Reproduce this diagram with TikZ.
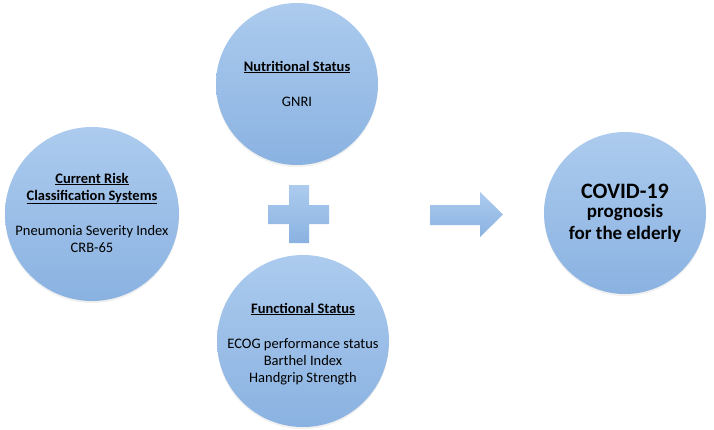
\documentclass[tikz,border=0pt]{standalone}
\usepackage{fontspec}
\setmainfont{Carlito}
\usetikzlibrary{shadows}
\definecolor{ctop}{RGB}{172,203,238}
\definecolor{cbot}{RGB}{138,178,225}
\tikzset{
  bubble/.style={circle, inner sep=0pt, top color=ctop, bottom color=cbot, draw=none,
    drop shadow={opacity=0.12, shadow xshift=0pt, shadow yshift=-2pt}},
  txt/.style={anchor=base, inner sep=0pt, font=\fontsize{14.5}{17}\selectfont},
  ttl/.style={txt, font=\fontsize{14.5}{17}\selectfont\bfseries},
  big/.style={anchor=base, inner sep=0pt, font=\fontsize{22}{26}\selectfont\bfseries},
  mid/.style={anchor=base, inner sep=0pt, font=\fontsize{19}{22}\selectfont\bfseries},
  shapefill/.style={top color=ctop, bottom color=cbot, draw=none}
}
\begin{document}
\begin{tikzpicture}[x=1pt,y=-1pt]
\useasboundingbox (0,0) rectangle (714,429);
% circles
\node[bubble, minimum size=174pt] (risk) at (92,214) {};
\node[bubble, minimum size=162pt] (nutr) at (297,84) {};
\node[bubble, minimum size=172pt] (func) at (303,341) {};
\node[bubble, minimum size=162pt] (covid) at (625,213) {};
% plus
\path[shapefill] (289,185) -- (309,185) -- (309,205) -- (329,205) -- (329,224) -- (309,224)
  -- (309,243) -- (289,243) -- (289,224) -- (268,224) -- (268,205) -- (289,205) -- cycle;
% arrow
\path[shapefill] (430,205) -- (480,205) -- (480,192) -- (503,214.5) -- (480,237) -- (480,225)
  -- (430,225) -- cycle;
% texts
\node[ttl] (r1) at (92,183) {\underline{Current Risk}};
\node[ttl] (r2) at (92,200) {\underline{Classification Systems}};
\node[txt] (r3) at (92,235) {Pneumonia Severity Index};
\node[txt] (r4) at (92,252) {CRB-65};
\node[ttl] (n1) at (297,71) {\underline{Nutritional Status}};
\node[txt] (n2) at (297,106) {GNRI};
\node[ttl] (f1) at (303,313) {\underline{Functional Status}};
\node[txt] (f2) at (303,348) {ECOG performance status};
\node[txt] (f3) at (303,365) {Barthel Index};
\node[txt] (f4) at (303,382) {Handgrip Strength};
\node[big] (c1) at (625,198) {COVID-19};
\node[mid] (c2) at (625,217) {prognosis};
\node[mid] (c3) at (625,239) {for the elderly};
\end{tikzpicture}
\end{document}
